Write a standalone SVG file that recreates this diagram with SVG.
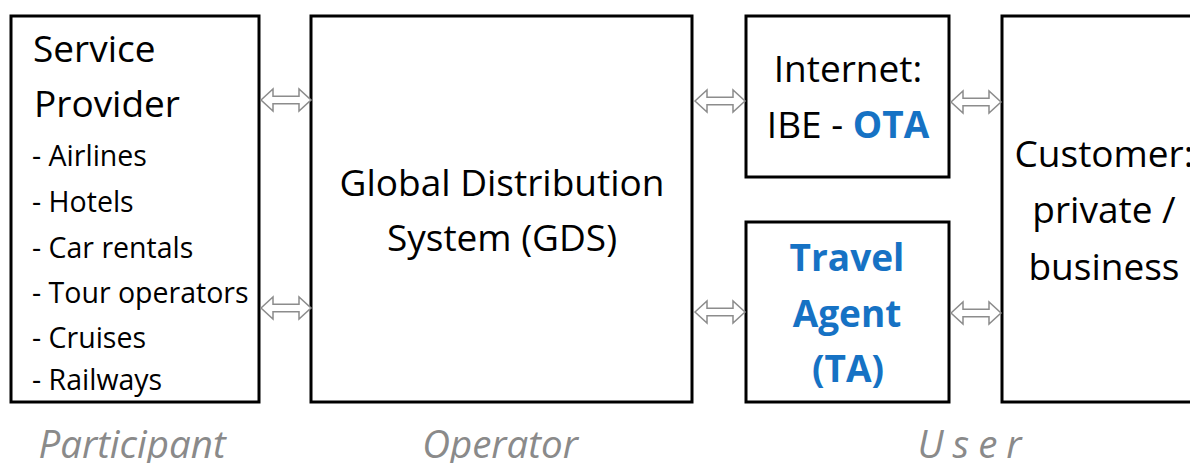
<svg xmlns="http://www.w3.org/2000/svg" width="1190" height="463" viewBox="0 0 1190 463">
<style>
.box{fill:#fff;stroke:#000;stroke-width:3}
.t{font-family:"Open Sans","Noto Sans",sans-serif;fill:#000}
.big{font-size:37px}
.sm{font-size:28.5px}
.blue{fill:#1672C4;font-weight:bold}
.lab{font-family:"Open Sans","Noto Sans",sans-serif;font-style:italic;fill:#8a8a8a;font-size:38.5px}
.arr{fill:#fff;stroke:#8c8c8c;stroke-width:1.5;stroke-linejoin:miter}
</style>
<defs>
<path id="dbl" d="M0,0 L12,-11 L12,-3.7 L38,-3.7 L38,-11 L50,0 L38,11 L38,3.7 L12,3.7 L12,11 Z"/>
</defs>
<rect width="1190" height="463" fill="#fff"/>
<g id="provider">
<rect class="box" x="11" y="16" width="248" height="386"/>
<text class="t big" x="33" y="62">Service</text>
<text class="t big" x="34" y="117">Provider</text>
<text class="t sm" x="32" y="166">- Airlines</text>
<text class="t sm" x="32" y="212">- Hotels</text>
<text class="t sm" x="32" y="258">- Car rentals</text>
<text class="t sm" x="32" y="303">- Tour operators</text>
<text class="t sm" x="32" y="348">- Cruises</text>
<text class="t sm" x="32" y="390">- Railways</text>
</g>
<g id="gds">
<rect class="box" x="311" y="16" width="381" height="386"/>
<text class="t big" x="502" y="196" text-anchor="middle">Global Distribution</text>
<text class="t big" x="502" y="251" text-anchor="middle">System (GDS)</text>
</g>
<g id="internet">
<rect class="box" x="746" y="16" width="203" height="161"/>
<text class="t big" x="848" y="82" text-anchor="middle">Internet:</text>
<text class="t big" x="848" y="138" text-anchor="middle">IBE - <tspan class="blue">OTA</tspan></text>
</g>
<g id="ta">
<rect class="box" x="746" y="222" width="203" height="180"/>
<text class="t big blue" x="847" y="271" text-anchor="middle">Travel</text>
<text class="t big blue" x="847" y="327" text-anchor="middle">Agent</text>
<text class="t big blue" x="848" y="382" text-anchor="middle">(TA)</text>
</g>
<g id="customer">
<rect class="box" x="1002" y="16" width="210" height="386"/>
<text class="t big" x="1104" y="167" text-anchor="middle">Customer:</text>
<text class="t big" x="1104" y="223" text-anchor="middle">private /</text>
<text class="t big" x="1104" y="280" text-anchor="middle">business</text>
</g>
<g id="connectors">
<use href="#dbl" class="arr" x="261" y="100"/>
<use href="#dbl" class="arr" x="261" y="308"/>
<use href="#dbl" class="arr" x="695" y="101"/>
<use href="#dbl" class="arr" x="695" y="312"/>
<use href="#dbl" class="arr" x="951" y="102"/>
<use href="#dbl" class="arr" x="951" y="313"/>
</g>
<g id="labels">
<text class="lab" x="132" y="458" text-anchor="middle">Participant</text>
<text class="lab" x="500" y="458" text-anchor="middle">Operator</text>
<text class="lab" x="974" y="458" text-anchor="middle" letter-spacing="9">User</text>
</g>
</svg>
